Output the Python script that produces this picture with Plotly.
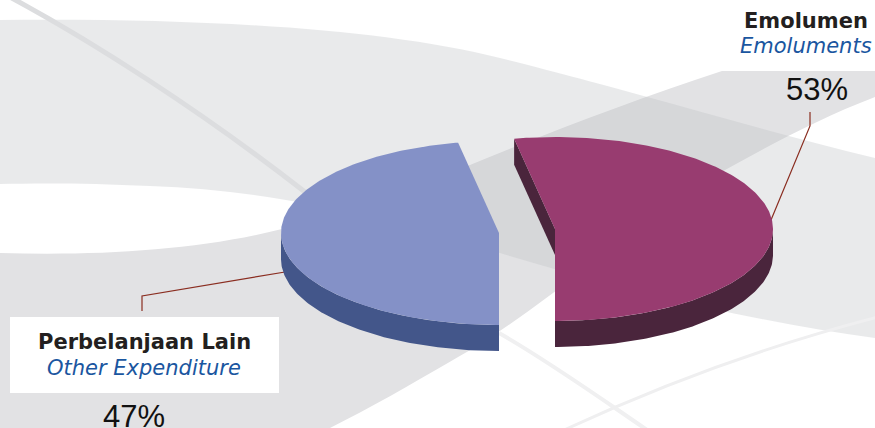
import numpy as np
import plotly.graph_objects as go

categories = ["Emolumen", "Perbelanjaan Lain"]
translations = ["Emoluments", "Other Expenditure"]
values = [53, 47]
pct_labels = ["53%", "47%"]

W, H = 875, 428
A, B, DEPTH = 218, 92, 26
C_E = (555, 229)
C_O = (499, 233)
TOP = ["#983c70", "#8491c7"]
SIDE = ["#4a253c", "#43568a"]

def ell(c, t):
    return c[0] + A * np.cos(t), c[1] - B * np.sin(t)

share = np.array(values) / sum(values) * 2 * np.pi
t0 = -np.pi / 2
t_e = np.linspace(t0, t0 + share[0], 240)          # Emolumen, counter-clockwise from the front
t_o = np.linspace(t0 - share[1], t0, 240)          # Other, clockwise from the front

fig = go.Figure()

def poly(x, y, color):
    fig.add_trace(go.Scatter(x=x, y=y, mode="lines", fill="toself", fillcolor=color,
                             line=dict(width=0), hoverinfo="skip", showlegend=False))

# Emolumen: cut wall, outer wall, top
xe, ye = ell(C_E, t_e)
poly([xe[-1], xe[-1], C_E[0], C_E[0]], [ye[-1], ye[-1] + DEPTH, C_E[1] + DEPTH, C_E[1]], SIDE[0])
m = t_e <= 0
poly(np.r_[xe[m], xe[m][::-1]], np.r_[ye[m], ye[m][::-1] + DEPTH], SIDE[0])
poly(np.r_[C_E[0], xe, C_E[0]], np.r_[C_E[1], ye, C_E[1]], TOP[0])

# Other: outer wall, top
xo, yo = ell(C_O, t_o)
a = t_o >= -np.pi
poly(np.r_[xo[a], xo[a][::-1]], np.r_[yo[a], yo[a][::-1] + DEPTH], SIDE[1])
poly(np.r_[C_O[0], xo, C_O[0]], np.r_[C_O[1], yo, C_O[1]], TOP[1])

upper = "M0,20 C200,18 380,28 500,58 C560,73 600,84 640,95 C720,117 800,140 875,158 L875,338 C760,322 640,295 500,253 C400,222 280,190 150,186 C90,183 40,183 0,184 Z"
lower = "M0,253 C100,256 200,250 282,229 C360,208 420,185 470,165 C560,128 640,98 722,71 L875,71 L875,97 C820,118 770,145 725,170 C660,208 600,258 553,293 C510,325 480,345 453,360 C410,385 370,408 330,428 L0,428 Z"
shapes = [
    dict(type="path", path=lower, fillcolor="rgb(226,226,228)", line_width=0, layer="below"),
    dict(type="path", path=upper, fillcolor="rgba(191,193,197,0.345)", line_width=0, layer="below"),
    dict(type="path", path="M8,-4 C90,40 200,110 305,192", line=dict(color="#dcdddf", width=5), layer="below"),
    dict(type="path", path="M499,333 C550,362 600,398 650,432", line=dict(color="#f0f0f1", width=4), layer="below"),
    dict(type="path", path="M560,432 C660,385 770,345 878,317", line=dict(color="#efeff0", width=3), layer="below"),
    dict(type="rect", x0=10, x1=279, y0=317, y1=393, fillcolor="white", line_width=0, layer="below"),
    dict(type="path", path="M142,311 L142,296 L285,272", line=dict(color="#8a2d20", width=1.2), layer="below"),
    dict(type="path", path="M810,112 L810,126 L771,220", line=dict(color="#8a2d20", width=1.2), layer="below"),
]

def note(x, y, text, anchor, size, color, family="DejaVu Sans"):
    fig.add_annotation(x=x, y=y, text=text, showarrow=False, xanchor=anchor, yanchor="middle",
                       font=dict(family=family, size=size, color=color))

note(870, 21, f"<b>{categories[0]}</b>", "right", 21, "#231f20")
note(874, 46, f"<i>{translations[0]}</i>", "right", 21, "#1a56a0")
note(817, 89, pct_labels[0], "center", 31, "#111111", "Liberation Sans")
note(144, 342, f"<b>{categories[1]}</b>", "center", 21, "#231f20")
note(144, 368, f"<i>{translations[1]}</i>", "center", 21, "#1a56a0")
note(134, 416, pct_labels[1], "center", 31, "#111111", "Liberation Sans")

fig.update_layout(
    width=W, height=H, margin=dict(l=0, r=0, t=0, b=0), autosize=False,
    paper_bgcolor="white", plot_bgcolor="white", shapes=shapes, showlegend=False,
    xaxis=dict(range=[0, W], visible=False, fixedrange=True),
    yaxis=dict(range=[H, 0], visible=False, fixedrange=True),
)
fig.write_html("out.html", config=dict(displayModeBar=False),
               post_script="document.body.style.margin='0';document.body.style.overflow='hidden';")
